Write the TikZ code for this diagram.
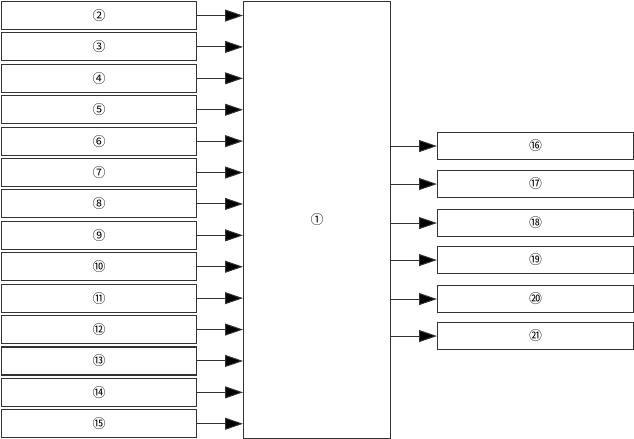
\documentclass[tikz,border=0pt]{standalone}
\usepackage{fontspec}
\newfontfamily\cjk{Noto Sans CJK JP}
\usetikzlibrary{arrows.meta}
\begin{document}
\begin{tikzpicture}[x=1bp,y=-1bp,
  lbl/.style={font=\cjk\fontsize{13}{13}\selectfont},
  box/.style={draw=black!80,line width=1.1bp,minimum width=195bp,minimum height=28bp,inner sep=0pt,lbl,anchor=north west},
  rbox/.style={draw=black!80,line width=1.1bp,minimum width=196bp,minimum height=27bp,inner sep=0pt,lbl,anchor=north west},
  arr/.style={draw=black!80,line width=1bp,-{Triangle[length=18bp,width=12bp,fill=black]}}]
\useasboundingbox (0,0) rectangle (634,439);
\node[draw=black!80,line width=1.1bp,minimum width=147bp,minimum height=437bp,inner sep=0pt,anchor=north west,lbl] (m) at (243,1) {①};
\foreach \t [count=\i from 0] in {②,③,④,⑤,⑥,⑦,⑧,⑨,⑩,⑪,⑫,⑬,⑭,⑮}{
  \node[box] (l\i) at (1,{1+31.4*\i}) {\t};
  \draw[arr] (l\i.east) -- (l\i.east -| m.west);
}
\foreach \t/\yy [count=\i from 0] in {⑯/132,⑰/170,⑱/209,⑲/246,⑳/285,㉑/322}{
  \node[rbox] (r\i) at (437,\yy) {\t};
  \draw[arr] (r\i.west -| m.east) -- (r\i.west);
}
\end{tikzpicture}
\end{document}
